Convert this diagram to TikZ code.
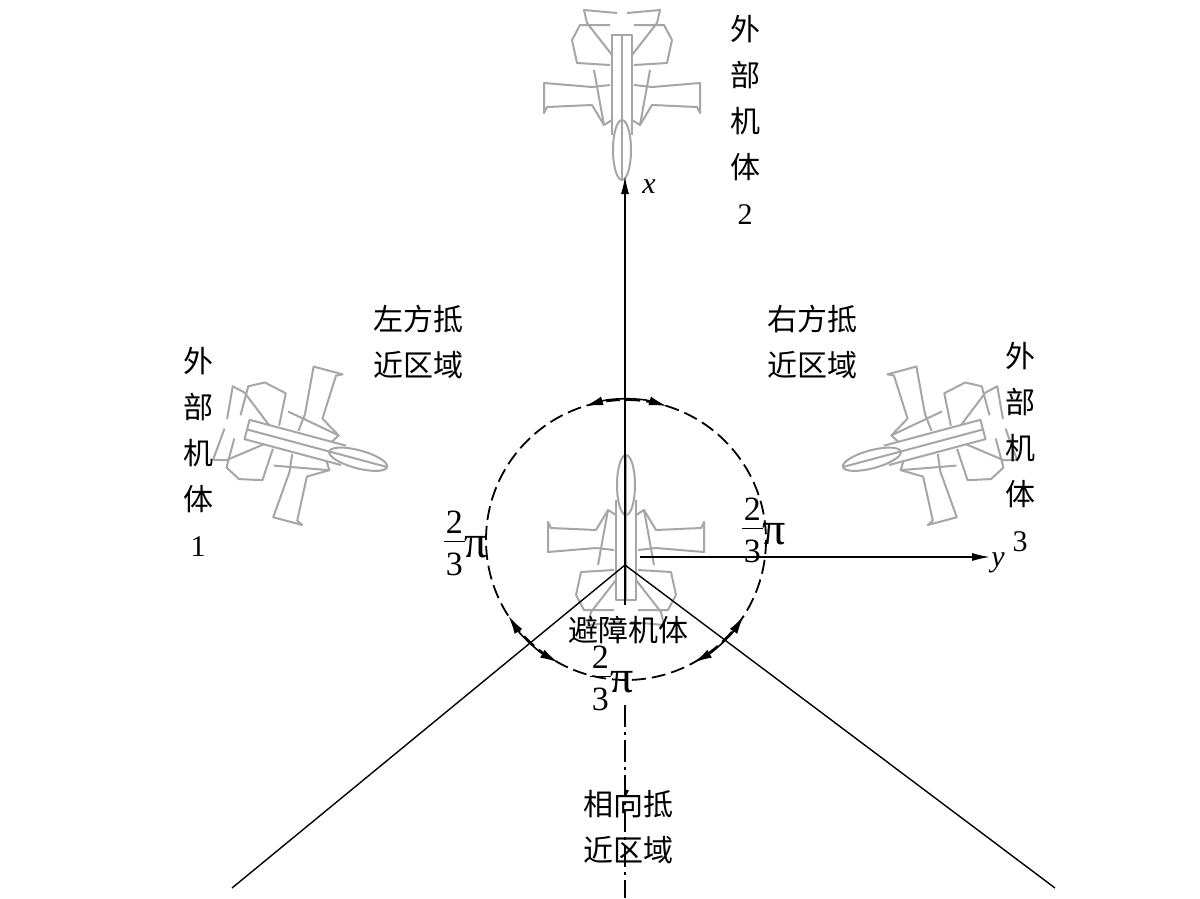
\documentclass[tikz,border=0pt]{standalone}
\usepackage{fontspec}
\setmainfont{Liberation Serif}
\newfontfamily\cjk{Noto Sans CJK SC}
\usetikzlibrary{arrows.meta}
\newcommand{\twothirdpi}{\renewcommand{\arraystretch}{0.85}\setlength{\tabcolsep}{2pt}%
  \begin{tabular}{c}2\\[-2pt]\hline\rule{0pt}{1em}3\end{tabular}%
  \raisebox{-0.2ex}{\fontsize{46}{46}\selectfont π}}
\tikzset{
  zh/.style = {font = \cjk\fontsize{30}{46}\selectfont, align = center, inner sep = 0pt},
  lbl/.style = {font = \fontsize{30}{34}\selectfont, inner sep = 0pt},
  frac/.style = {font = \fontsize{34}{36}\selectfont, inner sep = 0pt},
  axis/.style = {line width = 1.4pt, -{Latex[length=18pt,width=8pt]}},
  ring/.style = {line width = 1.8pt, dash pattern = on 14pt off 6pt},
  arcarrow/.style = {line width = 1.6pt, {Latex[length=18pt,width=9pt]}-{Latex[length=18pt,width=9pt]}},
  plane/.pic = {
    \begin{scope}[draw = gray!70, line width = 2pt, line join = round]
      % fuselage and canopy
      \draw (-10,-40) -- (-10,60) -- (10,60) -- (10,-40);
      \draw (0,-55) ellipse (9 and 30);
      \draw (0,-85) -- (0,60);
      % wings
      \foreach \s in {1,-1}
      {
        \draw (\s*10,-25) -- (\s*18,-30) -- (\s*30,-10) -- (\s*75,-12) -- (\s*78,-18)
              -- (\s*78,12) -- (\s*30,8) -- (\s*12,10);
        \draw (\s*18,-30) -- (\s*28,25);
        % tails
        \draw (\s*12,30) -- (\s*45,32) -- (\s*50,55) -- (\s*42,70) -- (\s*12,70);
        \draw (\s*10,40) -- (\s*35,72) -- (\s*38,85) -- (\s*5,82);
      }
    \end{scope}
  }
}
\begin{document}
\begin{tikzpicture}[x = 1pt, y = -1pt]
  \useasboundingbox (0,0) rectangle (1200,898);
  \fill[white] (0,0) rectangle (1200,898);

  % planes
  \pic at (626,540) {plane};
  \pic[rotate = 180] at (622,95) {plane};
  \pic[rotate = -105] at (305,445) {plane};
  \pic[rotate = 105] at (925,445) {plane};

  % axes and sector borders
  \coordinate (o) at (625,565);
  \coordinate (xe) at (625,176);
  \coordinate (ys) at (640,557);
  \coordinate (ye) at (990,557);
  \coordinate (bl) at (232,888);
  \coordinate (br) at (1055,888);
  \draw[axis] (o) -- (xe);
  \draw[axis] (ys) -- (ye);
  \draw[line width = 1.4pt] (o) -- (bl);
  \draw[line width = 1.4pt] (o) -- (br);
  \draw[line width = 1.4pt] (o) -- (625,605);
  \draw[line width = 1.4pt, dash pattern = on 22pt off 5pt on 3pt off 5pt] (625,705) -- (625,898);

  % approach ring
  \coordinate (c) at (626,540);
  \draw[ring] (c) circle (140);
  \draw[arcarrow] ([shift = {(-107:140)}] c) arc (-107:-73:140);
  \draw[arcarrow] ([shift = {(147:140)}] c) arc (147:119:140);
  \draw[arcarrow] ([shift = {(61:140)}] c) arc (61:33:140);

  % labels
  \node[lbl] (xl) at (649,187) {\itshape x};
  \node[lbl] (yl) at (998,563) {\itshape y};
  \node[frac] (f1) at (466,548) {\twothirdpi};
  \node[frac] (f2) at (764,535) {\twothirdpi};
  \node[frac] (f3) at (612,683) {\twothirdpi};
  \node[zh] (t2) at (745,120) {外\\部\\机\\体\\{\rmfamily 2}};
  \node[zh] (t1) at (198,452) {外\\部\\机\\体\\{\rmfamily 1}};
  \node[zh] (t3) at (1020,447) {外\\部\\机\\体\\{\rmfamily 3}};
  \node[zh] (left) at (418,342) {左方抵\\近区域};
  \node[zh] (right) at (812,342) {右方抵\\近区域};
  \node[zh] (head) at (628,827) {相向抵\\近区域};
  \node[zh] (self) at (628,630) {避障机体};
\end{tikzpicture}
\end{document}
